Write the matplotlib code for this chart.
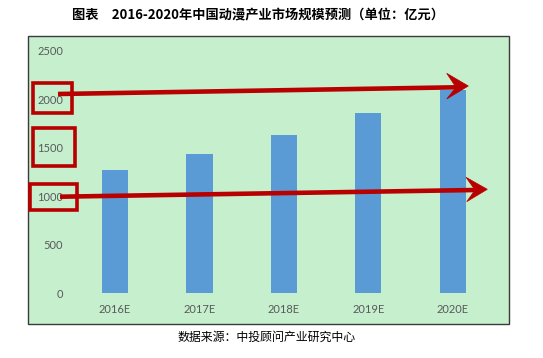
import matplotlib
matplotlib.use("Agg")
import matplotlib.pyplot as plt
from matplotlib.patches import Rectangle, Polygon
from matplotlib.lines import Line2D

categories = ["2016E", "2017E", "2018E", "2019E", "2020E"]
values = [1270, 1440, 1635, 1855, 2100]
yticks = [0, 500, 1000, 1500, 2000, 2500]
title = "图表　2016-2020年中国动漫产业市场规模预测（单位：亿元）"
source = "数据来源：中投顾问产业研究中心"

W, H = 543, 358
fig = plt.figure(figsize=(W / 100, H / 100), dpi=100)
fig.patch.set_facecolor("white")

def px(x, y):
    return (x / W, 1 - y / H)

# green chart area
x0, y0 = px(28, 324)
x1, y1 = px(509, 36)
fig.patches.append(Rectangle((x0, y0), x1 - x0, y1 - y0, transform=fig.transFigure,
                             facecolor="#C6EFCE", edgecolor="#3a3a3a", linewidth=1.0, zorder=-1))

# plot area
l, b = px(72.75, 293.3)
r, t = px(495, 50.7)
ax = fig.add_axes([l, b, r - l, t - b])
ax.set_zorder(1)
ax.set_facecolor("none")
xs = list(range(len(categories)))
ax.bar(xs, values, width=0.31, color="#5B9BD5", zorder=2)
ax.set_xlim(-0.5, len(categories) - 0.5)
ax.set_ylim(0, 2500)
ax.set_yticks(yticks)
ax.set_xticks(xs)
ax.set_xticklabels(categories)
for s in ax.spines.values():
    s.set_visible(False)
ax.tick_params(length=0, labelsize=8, labelcolor="#595959", pad=8)
ax.tick_params(axis="y", pad=7)
for lab in ax.get_xticklabels() + ax.get_yticklabels():
    lab.set_fontfamily(["Lato", "DejaVu Sans"])

# title and source
fig.text(258 / W, 1 - 15 / H, title, ha="center", va="center", fontsize=9.5, fontweight="bold",
         family=["Noto Sans CJK SC", "DejaVu Sans"], color="black")
fig.text(178 / W, 1 - 337 / H, source, ha="left", va="center", fontsize=8.6,
         family=["Noto Sans CJK SC", "DejaVu Sans"], color="black")

red = "#B80000"
# red boxes
for (bx0, by0, bx1, by1) in [(32.7, 83.3, 72.3, 112.7), (32.7, 128.3, 75, 165.7), (30, 184.3, 77.3, 210)]:
    a0 = px(bx0, by1)
    a1 = px(bx1, by0)
    fig.patches.append(Rectangle(a0, a1[0] - a0[0], a1[1] - a0[1], transform=fig.transFigure,
                                 facecolor="none", edgecolor=red, linewidth=2.6, zorder=5))

# arrows
def arrow(start, tip, barb_top, barb_bot, notch):
    sx, sy = px(*start)
    nx, ny = px(*notch)
    fig.lines.append(Line2D([sx, nx], [sy, ny], transform=fig.transFigure, color=red,
                            linewidth=3.3, solid_capstyle="butt", zorder=6))
    pts = [px(*tip), px(*barb_top), px(*notch), px(*barb_bot)]
    fig.patches.append(Polygon(pts, closed=True, transform=fig.transFigure,
                               facecolor=red, edgecolor=red, linewidth=0.5, zorder=6))

arrow((58, 94), (468.3, 86), (446.7, 73.3), (446.7, 99), (456, 87.3))
arrow((60, 196.7), (487.3, 189.3), (466, 177.3), (466.7, 201.7), (475, 190))

fig.savefig("out.png", dpi=100, facecolor="white")
